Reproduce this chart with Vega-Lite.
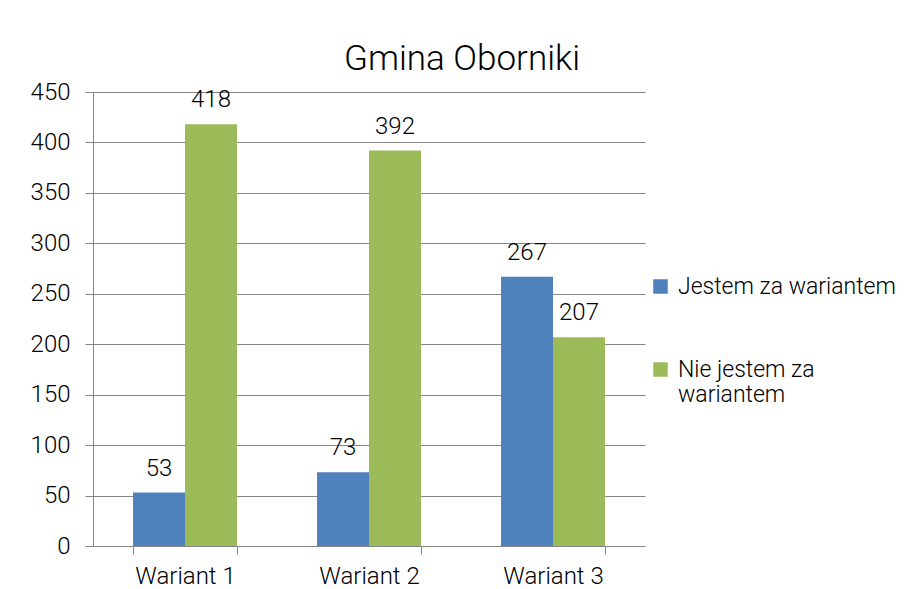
{
  "$schema": "https://vega.github.io/schema/vega-lite/v6.json",
  "width": 552,
  "height": 454,
  "autosize": "none",
  "padding": {"left": 93, "top": 92, "right": 262, "bottom": 43},
  "background": "white",
  "title": {"text": "Gmina Oborniki", "fontSize": 35, "font": "Roboto", "fontWeight": 300, "color": "#000000", "anchor": "middle", "dx": 93, "offset": 3},
  "data": {"values": [
    {"wariant": "Wariant 1", "seria": "Jestem za wariantem", "value": 53},
    {"wariant": "Wariant 1", "seria": "Nie jestem za wariantem", "value": 418},
    {"wariant": "Wariant 2", "seria": "Jestem za wariantem", "value": 73},
    {"wariant": "Wariant 2", "seria": "Nie jestem za wariantem", "value": 392},
    {"wariant": "Wariant 3", "seria": "Jestem za wariantem", "value": 267},
    {"wariant": "Wariant 3", "seria": "Nie jestem za wariantem", "value": 207}
  ]},
  "encoding": {
    "x": {"field": "wariant", "type": "nominal", "title": null,
      "scale": {"paddingInner": 0.435, "paddingOuter": 0.2175},
      "axis": {"labelAngle": 0, "labelFontSize": 24, "labelFont": "Roboto", "labelFontWeight": 300, "labelColor": "#000", "tickBand": "extent", "tickSize": 8, "tickColor": "#868686", "domainColor": "#868686", "labelPadding": 10}},
    "xOffset": {"field": "seria", "type": "nominal", "scale": {"paddingInner": 0, "paddingOuter": 0}},
    "y": {"field": "value", "type": "quantitative", "title": null,
      "scale": {"domain": [0, 450]},
      "axis": {"values": [0, 50, 100, 150, 200, 250, 300, 350, 400, 450], "labelFontSize": 24, "labelFont": "Roboto", "labelFontWeight": 300, "labelColor": "#000", "tickSize": 8, "tickColor": "#868686", "domainColor": "#868686", "gridColor": "#868686", "labelPadding": 15}}
  },
  "layer": [
    {"mark": {"type": "bar"},
     "encoding": {"color": {"field": "seria", "type": "nominal", "title": null,
       "scale": {"domain": ["Jestem za wariantem", "Nie jestem za wariantem"], "range": ["#4F81BD", "#9BBB59"]},
       "legend": {"orient": "none", "legendX": 556, "legendY": 183, "symbolType": "square", "symbolSize": 210, "symbolStrokeWidth": 0, "labelFontSize": 23, "labelFont": "Roboto", "labelFontWeight": 300, "labelColor": "#000", "rowPadding": 59, "labelLimit": 300, "labelOffset": 6,
         "labelExpr": "datum.label == 'Nie jestem za wariantem' ? ['Nie jestem za', 'wariantem'] : datum.label"}}}},
    {"mark": {"type": "text", "baseline": "alphabetic", "dy": -17, "fontSize": 24, "font": "Roboto", "fontWeight": 300, "color": "#000"},
     "encoding": {"text": {"field": "value", "type": "quantitative"}}}
  ],
  "config": {"view": {"stroke": null}}
}
